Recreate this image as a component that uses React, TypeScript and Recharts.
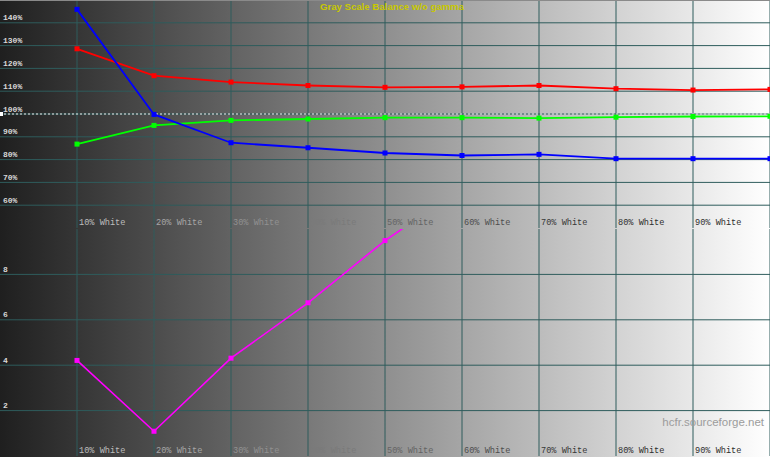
import React from 'react';
import { LineChart, Line, XAxis, YAxis, CartesianGrid, ReferenceLine } from 'recharts';

// Gray scale steps (% of white) and measured RGB levels
const steps = [10, 20, 30, 40, 50, 60, 70, 80, 90, 100];
const redLevels = [128.6, 116.8, 114.0, 112.5, 111.7, 111.9, 112.5, 111.1, 110.5, 110.8];
const greenLevels = [86.8, 95.0, 97.2, 97.8, 98.4, 98.4, 98.2, 98.6, 98.9, 99.0];
const blueLevels = [145.9, 99.8, 87.4, 85.2, 82.9, 81.8, 82.3, 80.4, 80.4, 80.4];
// dE per step; anything above the 10 scale top runs off the panel
const deltaE: (number | null)[] = [4.21, 1.09, 4.31, 6.75, 9.49, 11.8, null, null, null, null];

const levelTicks = [60, 70, 80, 90, 100, 110, 120, 130, 140];
const deltaTicks = [2, 4, 6, 8];

const W = 770;
const TOP_H = 228;
const BOTTOM_H = 228;

const levelData = steps.map((s, i) => ({
  step: s,
  red: redLevels[i],
  green: greenLevels[i],
  blue: blueLevels[i],
}));
const deltaData = steps.map((s, i) => ({ step: s, dE: deltaE[i] }));

const GRID = '#2e5c5c';
const MONO = '"Liberation Mono", "DejaVu Sans Mono", monospace';
const margin = { top: -1, right: 0, bottom: 0, left: -1 };

// labels are the inverse of the gray ramp behind them
const inverseGray = (x: number) => {
  const bg = 31 + (224 * Math.min(Math.max(x, 0), W)) / W;
  const v = Math.round(Math.max(45, 250 - bg));
  return `rgb(${v},${v},${v})`;
};

const SquareDot = (color: string) => (props: any) => {
  const { cx, cy, index } = props;
  if (cx == null || cy == null) return <g key={index} />;
  return <rect key={index} x={cx - 2.5} y={cy - 2.5} width={5} height={5} fill={color} />;
};

const XTick = (props: any) => {
  const { x, y, payload } = props;
  if (payload.value >= 100) return <g />;
  return (
    <text x={x + 2} y={y - 3} fill={inverseGray(x + 25)} fontSize={8.6} fontFamily={MONO} textAnchor="start">
      {`${payload.value}% White`}
    </text>
  );
};

const makeYTick = (suffix: string) => (props: any) => {
  const { y, payload } = props;
  return (
    <text
      x={3}
      y={y - 2.5}
      fill={inverseGray(12)}
      fontSize={8}
      fontFamily={MONO}
      fontWeight="bold"
      textAnchor="start"
    >
      {`${payload.value}${suffix}`}
    </text>
  );
};

const LeftMarker = (props: any) => {
  const { viewBox } = props;
  return <rect x={0} y={viewBox.y - 2} width={3} height={4} fill="#ffffff" />;
};

export default function App() {
  return (
    <div
      style={{
        position: 'absolute',
        left: 0,
        top: 0,
        width: W,
        height: 457,
        background: 'linear-gradient(to right, #1f1f1f, #ffffff)',
        borderTop: '1px solid #8a8a8a',
        boxSizing: 'border-box',
        overflow: 'hidden',
      }}
    >
      <LineChart width={W} height={TOP_H} data={levelData} margin={margin}>
        <CartesianGrid stroke={GRID} strokeWidth={1} horizontalValues={levelTicks} verticalValues={steps} />
        <XAxis
          dataKey="step"
          type="number"
          domain={[0, 100]}
          ticks={steps}
          interval={0}
          height={1}
          axisLine={false}
          tickLine={false}
          tickSize={0}
          tickMargin={0}
          tick={<XTick />}
        />
        <YAxis
          type="number"
          domain={[50, 150]}
          ticks={levelTicks}
          interval={0}
          width={1}
          axisLine={false}
          tickLine={false}
          allowDataOverflow
          tick={makeYTick('%')}
        />
        <ReferenceLine y={100} stroke="#f0f0f0" strokeDasharray="2 2" label={<LeftMarker />} />
        <Line dataKey="red" stroke="#ff0000" strokeWidth={1.8} dot={SquareDot('#ff0000')} activeDot={false} isAnimationActive={false} />
        <Line dataKey="green" stroke="#00ff00" strokeWidth={1.8} dot={SquareDot('#00ff00')} activeDot={false} isAnimationActive={false} />
        <Line dataKey="blue" stroke="#0000ff" strokeWidth={1.8} dot={SquareDot('#0000ff')} activeDot={false} isAnimationActive={false} />
      </LineChart>
      <LineChart width={W} height={BOTTOM_H} data={deltaData} margin={{ ...margin, top: 0 }}>
        <CartesianGrid stroke={GRID} strokeWidth={1} horizontalValues={deltaTicks} verticalValues={steps} />
        <XAxis
          dataKey="step"
          type="number"
          domain={[0, 100]}
          ticks={steps}
          interval={0}
          height={1}
          axisLine={false}
          tickLine={false}
          tickSize={0}
          tickMargin={0}
          tick={<XTick />}
        />
        <YAxis
          type="number"
          domain={[0, 10]}
          ticks={deltaTicks}
          interval={0}
          width={1}
          axisLine={false}
          tickLine={false}
          allowDataOverflow
          tick={makeYTick('')}
        />
        <Line dataKey="dE" stroke="#ff00ff" strokeWidth={1.6} dot={SquareDot('#ff00ff')} activeDot={false} isAnimationActive={false} />
      </LineChart>
      <div
        style={{
          position: 'absolute',
          left: 0,
          top: 0,
          width: 784,
          textAlign: 'center',
          color: '#c8c800',
          font: 'bold 9.6px "Liberation Sans", Arial, sans-serif',
        }}
      >
        Gray Scale Balance w/o gamma
      </div>
      <div
        style={{
          position: 'absolute',
          right: 6,
          top: 415,
          color: '#9c9c9c',
          font: '11.5px "Liberation Sans", Arial, sans-serif',
        }}
      >
        hcfr.sourceforge.net
      </div>
    </div>
  );
}
